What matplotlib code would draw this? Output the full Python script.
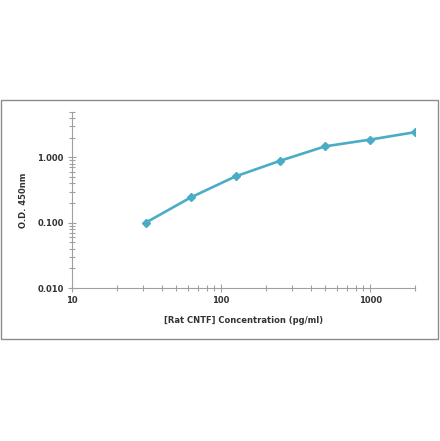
import numpy as np
import matplotlib
matplotlib.use("Agg")
import matplotlib.pyplot as plt
from matplotlib.patches import Rectangle
from matplotlib.ticker import FixedLocator, NullFormatter, FixedFormatter

# standard curve
conc = [31.25, 62.5, 125, 250, 500, 1000, 2000]
od = [0.100, 0.243, 0.511, 0.889, 1.476, 1.87, 2.43]

x_ticks = [10, 100, 1000]
x_labels = ['10', '100', '1000']
y_ticks = [0.01, 0.1, 1.0]
y_labels = ['0.010', '0.100', '1.000']

line_col = '#4bacc6'
axis_col = '#a0a0a0'

fig = plt.figure(figsize=(4.4, 4.41), dpi=100)
fig.patches.append(Rectangle((1 / 440, (441 - 339) / 441), 437 / 440, 239 / 441,
                             transform=fig.transFigure, fill=False,
                             edgecolor='#8c8c8c', linewidth=1.0))

ax = fig.add_axes([72 / 440, (441 - 288) / 441, (415 - 72) / 440, (288 - 111.7) / 441])
ax.plot(conc, od, color=line_col, lw=1.9, marker='D', ms=4.5,
        markerfacecolor=line_col, markeredgecolor=line_col, zorder=3)

ax.set_xscale('log')
ax.set_yscale('log')
ax.set_xlim(10, 2000)
ax.set_ylim(0.01, 5)

for s in ['top', 'right']:
    ax.spines[s].set_visible(False)
for s in ['left', 'bottom']:
    ax.spines[s].set_color(axis_col)
    ax.spines[s].set_linewidth(0.8)

ax.xaxis.set_major_locator(FixedLocator(x_ticks))
ax.xaxis.set_major_formatter(FixedFormatter(x_labels))
ax.xaxis.set_minor_locator(FixedLocator(
    [m * d for d in [10, 100] for m in range(2, 10)] + [2000]))
ax.yaxis.set_major_locator(FixedLocator(y_ticks))
ax.yaxis.set_major_formatter(FixedFormatter(y_labels))
ax.yaxis.set_minor_locator(FixedLocator(
    [m * d for d in [0.01, 0.1] for m in range(2, 10)] + [2, 3, 4, 5]))
ax.xaxis.set_minor_formatter(NullFormatter())
ax.yaxis.set_minor_formatter(NullFormatter())

ax.tick_params(which='both', direction='inout', color=axis_col, width=0.8)
ax.tick_params(which='major', length=6, labelsize=6, pad=3)
ax.tick_params(which='minor', length=4.5)
for lab in ax.get_xticklabels() + ax.get_yticklabels():
    lab.set_fontweight('bold')
    lab.set_color('#333333')

ax.set_xlabel('[Rat CNTF] Concentration (pg/ml)', fontsize=6, fontweight='bold',
              color='#333333', labelpad=8)
ax.set_ylabel('O.D. 450nm', fontsize=6, fontweight='bold', color='#333333', labelpad=7)

fig.savefig('out.png', dpi=100)
